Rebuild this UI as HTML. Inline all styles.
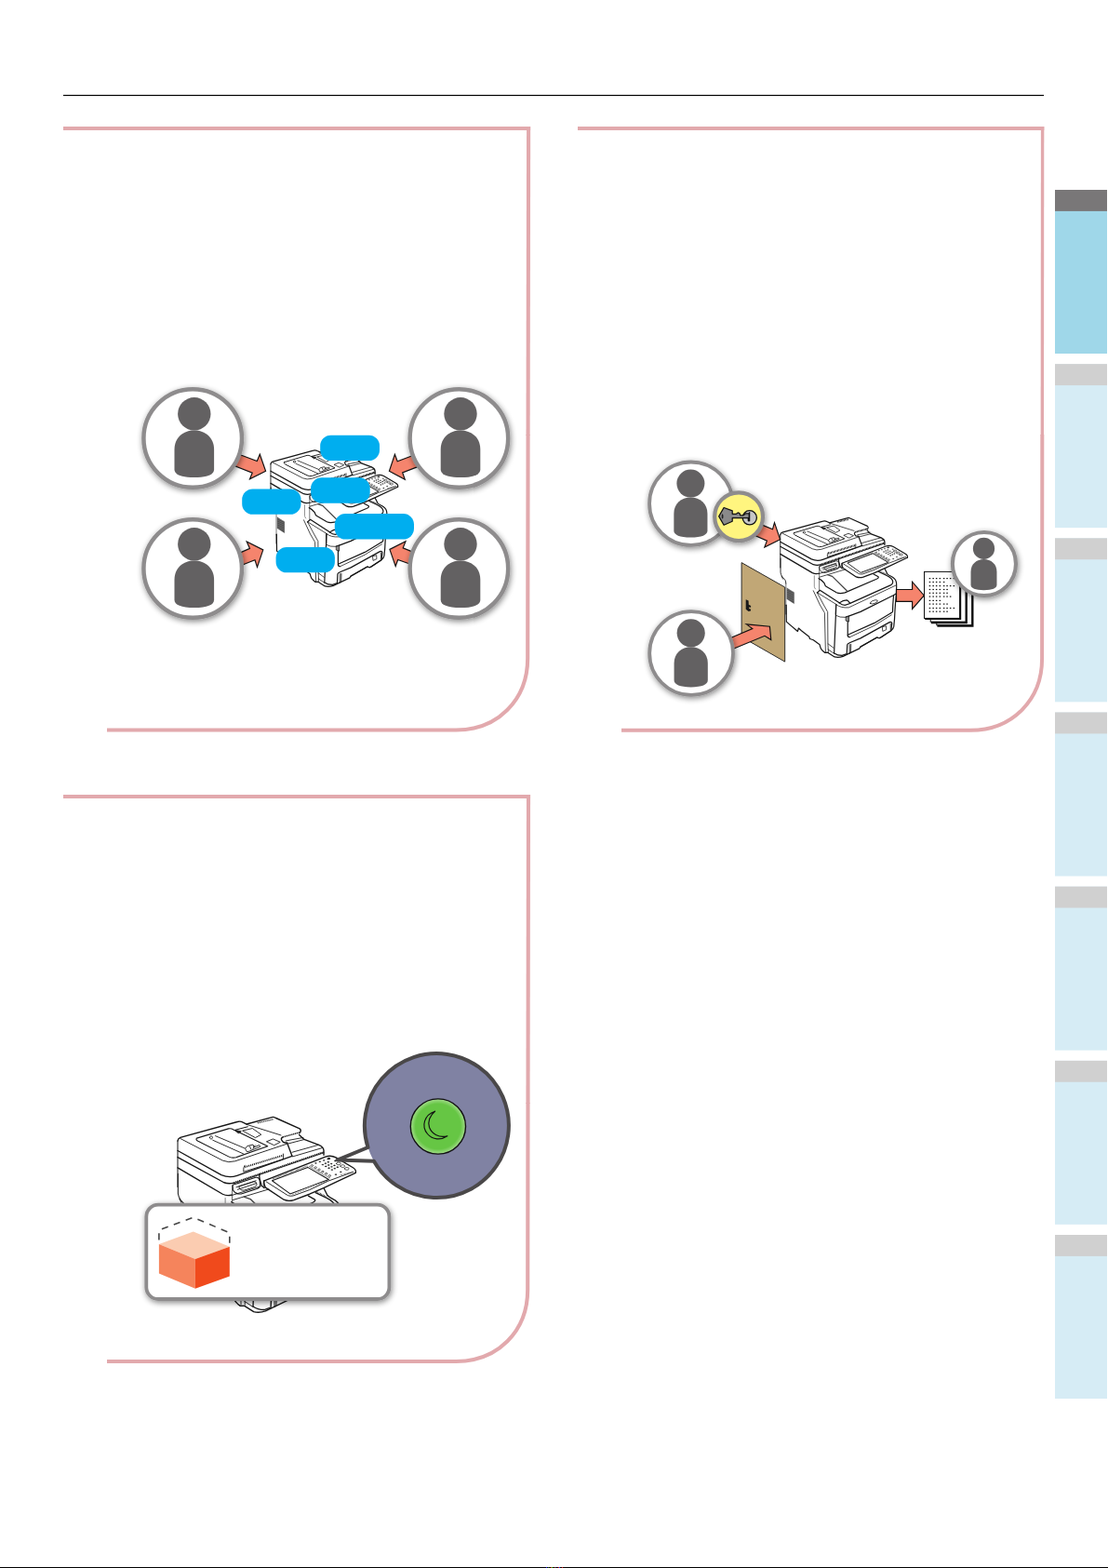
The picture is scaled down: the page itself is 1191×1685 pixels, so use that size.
<!DOCTYPE html>
<html lang="en"><head><meta charset="utf-8"><title>Page</title>
<style>
html,body{margin:0;padding:0;background:#fff;}
body{width:1191px;height:1685px;overflow:hidden;font-family:"Liberation Sans",sans-serif;}
svg{display:block;position:absolute;left:0;top:0;}
</style></head><body>
<svg width="1191" height="1685" viewBox="0 0 1191 1685">
<defs>
<filter id="sh" x="-30%" y="-30%" width="160%" height="160%">
<feGaussianBlur in="SourceAlpha" stdDeviation="3.3"/>
<feOffset dx="1.4" dy="1.6" result="b"/>
<feComponentTransfer><feFuncA type="linear" slope="0.47"/></feComponentTransfer>
<feMerge><feMergeNode/><feMergeNode in="SourceGraphic"/></feMerge>
</filter>
<radialGradient id="gg" cx="50%" cy="50%" r="50%">
<stop offset="0" stop-color="#66c644"/><stop offset="0.82" stop-color="#66c644"/><stop offset="1" stop-color="#a5dd8d"/>
</radialGradient>
</defs>
<rect x="68" y="101.9" width="1054" height="1.2" fill="#000"/>
<path d="M68,138 L570.15,138" fill="none" stroke="#e2a9ad" stroke-width="4"/><path d="M568.1,136 L567.58,468" fill="none" stroke="#e2a9ad" stroke-width="4.1"/><path d="M567.58,467 L567.2,707.5 C567.2,752.16 534.86,784.5 490.20000000000005,784.5 L115,784.5" fill="none" stroke="#e2a9ad" stroke-width="4.1"/>
<path d="M621,138 L1122.30,138" fill="none" stroke="#e2a9ad" stroke-width="4"/><path d="M1120.6,136 L1120.31,468" fill="none" stroke="#e2a9ad" stroke-width="3.4"/><path d="M1120.31,467 L1120.1,707.8 C1120.1,752.4599999999999 1087.76,784.8 1043.1,784.8 L668,784.8" fill="none" stroke="#e2a9ad" stroke-width="4.0"/>
<path d="M68,855.9 L570.05,855.9" fill="none" stroke="#e2a9ad" stroke-width="4"/><path d="M568.0,853.9 L567.50,1185.9" fill="none" stroke="#e2a9ad" stroke-width="4.1"/><path d="M567.50,1184.9 L567.2,1386 C567.2,1430.66 534.86,1463 490.20000000000005,1463 L115,1463" fill="none" stroke="#e2a9ad" stroke-width="4.1"/>
<rect x="1134" y="204.00" width="56" height="176" fill="#9fd7e9"/>
<rect x="1134" y="204.00" width="56" height="22.9" fill="#797778"/>
<rect x="1134" y="391.17" width="56" height="176" fill="#d6ecf5"/>
<rect x="1134" y="391.17" width="56" height="22.9" fill="#d0d0d0"/>
<rect x="1134" y="578.34" width="56" height="176" fill="#d6ecf5"/>
<rect x="1134" y="578.34" width="56" height="22.9" fill="#d0d0d0"/>
<rect x="1134" y="765.51" width="56" height="176" fill="#d6ecf5"/>
<rect x="1134" y="765.51" width="56" height="22.9" fill="#d0d0d0"/>
<rect x="1134" y="952.68" width="56" height="176" fill="#d6ecf5"/>
<rect x="1134" y="952.68" width="56" height="22.9" fill="#d0d0d0"/>
<rect x="1134" y="1139.85" width="56" height="176" fill="#d6ecf5"/>
<rect x="1134" y="1139.85" width="56" height="22.9" fill="#d0d0d0"/>
<rect x="1134" y="1327.02" width="56" height="176" fill="#d6ecf5"/>
<rect x="1134" y="1327.02" width="56" height="22.9" fill="#d0d0d0"/>
<g transform="translate(-547.80,-76.00) scale(1.0)" stroke-linejoin="round" stroke-linecap="round"><path d="M 838.78 610.00 L 838.78 574.69" fill="none" stroke="#161616" stroke-width="0.90"/><path d="M 838.78 574.69 Q 838.93 572.92 840.79 572.17 L 884.62 560.08 Q 886.89 559.32 888.90 560.58 L 891.68 561.89" fill="none" stroke="#161616" stroke-width="1.20"/><path d="M 839.03 600.00 L 839.03 615.11 Q 839.28 617.63 841.05 620.15 L 843.82 623.17 Q 844.82 624.43 844.82 627.20" fill="none" stroke="#161616" stroke-width="0.90"/><path d="M 844.82 627.20 L 844.82 650.38" fill="none" stroke="#555" stroke-width="0.78"/><path d="M 844.97 650.38 L 844.97 660.00" fill="none" stroke="#161616" stroke-width="0.90"/><path d="M 840.04 619.14 L 841.55 622.17" fill="none" stroke="#161616" stroke-width="0.78"/><path d="M 840.79 572.92 L 873.29 589.80 Q 877.82 591.81 882.86 590.30 L 922.56 577.05" fill="none" stroke="#161616" stroke-width="0.78"/><path d="M 838.78 582.24 L 872.28 600.88 Q 878.32 603.40 884.37 601.39 L 926.59 586.37" fill="none" stroke="#161616" stroke-width="1.20"/><path d="M 838.78 587.28 L 874.29 606.68 Q 877.82 607.93 881.85 606.93" fill="none" stroke="#161616" stroke-width="1.20"/><path d="M 881.85 606.83 L 950.92 583.30" fill="none" stroke="#1a1a1a" stroke-width="1.90" stroke-dasharray="1.0 0.45" stroke-linecap="butt"/><path d="M 881.85 607.43 L 950.92 583.90" fill="none" stroke="#161616" stroke-width="0.78"/><path d="M 838.78 595.37 L 873.29 615.62 Q 876.81 617.38 880.59 616.02" fill="none" stroke="#161616" stroke-width="1.20"/><path d="M 875.30 618.64 L 875.30 630.23 Q 875.55 632.24 876.56 633.00" fill="none" stroke="#777" stroke-width="0.78"/><path d="M 880.59 609.07 L 880.59 634.26" fill="none" stroke="#555" stroke-width="0.78"/><path d="M 853.39 572.67 L 877.82 565.37 Q 879.84 565.01 881.60 566.12 L 907.85 578.87 L 883.61 587.38 Q 880.34 588.19 877.82 586.78 L 854.40 574.94 Q 852.38 573.78 853.39 572.67 Z" fill="none" stroke="#161616" stroke-width="0.95"/><path d="M 867.75 570.91 L 890.42 580.48 M 865.73 574.18 L 889.41 584.76" fill="none" stroke="#161616" stroke-width="0.78"/><path d="M 863.36 572.17 C 863.36 571.55 863.86 571.06 864.47 571.06 C 865.08 571.06 865.58 571.55 865.58 572.17 C 865.58 572.78 865.08 573.27 864.47 573.27 C 863.86 573.27 863.36 572.78 863.36 572.17 Z" fill="none" stroke="#161616" stroke-width="0.78"/><path d="M 890.83 580.48 L 892.09 578.72 L 896.62 577.61 L 897.38 579.72 L 901.41 577.96 L 902.17 579.22 L 893.60 582.75 L 892.09 583.00 Z" fill="none" stroke="#161616" stroke-width="0.78"/><path d="M 894.11 578.97 L 895.11 581.23 M 898.14 578.21 L 896.62 580.73" fill="none" stroke="#161616" stroke-width="0.78"/><path d="M 891.69 561.89 L 911.23 556.55 Q 912.49 556.25 913.85 557.05 L 932.39 565.37 Q 933.80 566.37 932.90 568.04 L 932.14 568.89" fill="none" stroke="#161616" stroke-width="1.20"/><path d="M 919.55 571.76 L 932.39 568.24" fill="none" stroke="#222" stroke-width="1.70" stroke-dasharray="1.0 0.35" stroke-linecap="butt"/><path d="M 919.55 571.76 Q 917.88 572.57 918.54 574.08 L 919.90 575.79 L 922.82 576.30" fill="none" stroke="#161616" stroke-width="1.20"/><path d="M 922.82 576.30 L 926.60 586.37" fill="none" stroke="#161616" stroke-width="1.20"/><path d="M 932.04 570.05 L 935.82 573.58 L 947.15 577.86 Q 950.68 579.37 950.93 582.14 L 950.93 585.67" fill="none" stroke="#161616" stroke-width="1.20"/><path d="M 921.81 574.69 L 935.16 572.17 M 923.32 576.95 L 935.92 573.68" fill="none" stroke="#161616" stroke-width="0.78"/><path d="M 892.09 562.24 L 918.04 570.40" fill="none" stroke="#161616" stroke-width="0.78"/><path d="M 900.15 560.98 L 912.49 558.06" fill="none" stroke="#333" stroke-width="1.60" stroke-dasharray="0.9 0.5" stroke-linecap="butt"/><path d="M 888.82 566.88 L 896.12 565.11 L 902.92 569.90 L 898.64 572.17 Z" fill="none" stroke="#161616" stroke-width="0.78"/><path d="M 907.20 575.19 L 911.99 573.27 L 917.53 575.69 L 913.00 577.96 Z" fill="none" stroke="#161616" stroke-width="0.78"/><path d="M 883.02 566.37 L 892.59 563.85" fill="none" stroke="#161616" stroke-width="0.90"/><path d="M 883.02 566.62 L 887.56 567.38 L 885.54 568.74 Z" fill="#222" stroke="#161616" stroke-width="0.78"/><path d="M 926.60 583.50 L 946.75 577.86 M 927.10 586.78 L 949.77 580.13" fill="none" stroke="#161616" stroke-width="0.78"/><path d="M 890.33 594.84 L 919.55 585.87" fill="none" stroke="#222" stroke-width="2.20" stroke-dasharray="0.85 0.6" stroke-linecap="butt"/><path d="M 890.33 593.43 Q 888.97 594.84 889.32 598.46 L 919.80 588.89 L 919.80 584.76" fill="none" stroke="#161616" stroke-width="0.78"/><path d="M 905.20 605.29 L 952.20 586.95 Q 956.23 585.44 960.26 587.46 L 973.36 595.26 Q 976.13 597.03 975.38 599.29" fill="none" stroke="#161616" stroke-width="1.20"/><path d="M 975.38 599.29 L 951.20 610.63 L 940.01 615.62 L 927.87 620.15 Q 923.84 621.41 920.31 619.90 L 906.21 610.58 Q 904.70 607.56 905.20 605.29" fill="none" stroke="#161616" stroke-width="1.20"/><path d="M 906.71 606.05 L 923.34 616.62 Q 925.35 617.38 927.37 616.88 L 940.01 612.34 L 954.22 605.59 L 973.61 598.54" fill="none" stroke="#161616" stroke-width="0.78"/><path d="M 938.60 595.01 L 954.72 604.33 L 940.01 609.82 L 925.10 615.37 L 911.25 605.29 Z" fill="none" stroke="#161616" stroke-width="0.90"/><path d="M 926.51 616.02 L 954.47 605.34" fill="none" stroke="#333" stroke-width="1.00" stroke-dasharray="0.5 0.7" stroke-linecap="butt"/><path d="M 941.12 593.45 L 942.13 592.95 L 942.93 593.70 L 941.93 594.26 Z" fill="none" stroke="#161616" stroke-width="0.60"/><path d="M 943.84 595.01 L 944.85 594.51 L 945.65 595.26 L 944.65 595.82 Z" fill="none" stroke="#161616" stroke-width="0.60"/><path d="M 946.56 596.57 L 947.57 596.07 L 948.38 596.83 L 947.37 597.38 Z" fill="none" stroke="#161616" stroke-width="0.60"/><path d="M 949.28 598.14 L 950.29 597.63 L 951.10 598.39 L 950.09 598.94 Z" fill="none" stroke="#161616" stroke-width="0.60"/><path d="M 952.00 599.70 L 953.01 599.19 L 953.82 599.95 L 952.81 600.50 Z" fill="none" stroke="#161616" stroke-width="0.60"/><path d="M 954.72 601.26 L 955.73 600.76 L 956.54 601.51 L 955.53 602.07 Z" fill="none" stroke="#161616" stroke-width="0.60"/><path d="M 944.19 591.79 C 944.19 591.54 944.49 591.33 944.85 591.33 C 945.21 591.33 945.50 591.54 945.50 591.79 C 945.50 592.04 945.21 592.25 944.85 592.25 C 944.49 592.25 944.19 592.04 944.19 591.79 Z" fill="#222" stroke="#161616" stroke-width="0.20"/><path d="M 947.32 590.73 C 947.32 590.48 947.61 590.27 947.97 590.27 C 948.33 590.27 948.63 590.48 948.63 590.73 C 948.63 590.98 948.33 591.19 947.97 591.19 C 947.61 591.19 947.32 590.98 947.32 590.73 Z" fill="#222" stroke="#161616" stroke-width="0.20"/><path d="M 950.44 589.67 C 950.44 589.42 950.73 589.21 951.10 589.21 C 951.46 589.21 951.75 589.42 951.75 589.67 C 951.75 589.93 951.46 590.13 951.10 590.13 C 950.73 590.13 950.44 589.93 950.44 589.67 Z" fill="#222" stroke="#161616" stroke-width="0.20"/><path d="M 953.56 588.61 C 953.56 588.36 953.86 588.16 954.22 588.16 C 954.58 588.16 954.87 588.36 954.87 588.61 C 954.87 588.87 954.58 589.07 954.22 589.07 C 953.86 589.07 953.56 588.87 953.56 588.61 Z" fill="#222" stroke="#161616" stroke-width="0.20"/><path d="M 949.48 593.00 C 949.48 592.72 949.80 592.50 950.19 592.50 C 950.58 592.50 950.89 592.72 950.89 593.00 C 950.89 593.27 950.58 593.49 950.19 593.49 C 949.80 593.49 949.48 593.27 949.48 593.00 Z" fill="#222" stroke="#161616" stroke-width="0.20"/><path d="M 951.85 594.31 C 951.85 594.03 952.17 593.81 952.56 593.81 C 952.95 593.81 953.26 594.03 953.26 594.31 C 953.26 594.58 952.95 594.80 952.56 594.80 C 952.17 594.80 951.85 594.58 951.85 594.31 Z" fill="#222" stroke="#161616" stroke-width="0.20"/><path d="M 954.22 595.62 C 954.22 595.34 954.53 595.12 954.92 595.12 C 955.31 595.12 955.63 595.34 955.63 595.62 C 955.63 595.89 955.31 596.11 954.92 596.11 C 954.53 596.11 954.22 595.89 954.22 595.62 Z" fill="#222" stroke="#161616" stroke-width="0.20"/><path d="M 956.59 596.93 C 956.59 596.65 956.90 596.43 957.29 596.43 C 957.68 596.43 958.00 596.65 958.00 596.93 C 958.00 597.20 957.68 597.42 957.29 597.42 C 956.90 597.42 956.59 597.20 956.59 596.93 Z" fill="#222" stroke="#161616" stroke-width="0.20"/><path d="M 951.60 591.99 C 951.60 591.72 951.92 591.50 952.30 591.50 C 952.69 591.50 953.01 591.72 953.01 591.99 C 953.01 592.26 952.69 592.48 952.30 592.48 C 951.92 592.48 951.60 592.26 951.60 591.99 Z" fill="#222" stroke="#161616" stroke-width="0.20"/><path d="M 953.97 593.30 C 953.97 593.03 954.28 592.81 954.67 592.81 C 955.06 592.81 955.38 593.03 955.38 593.30 C 955.38 593.57 955.06 593.79 954.67 593.79 C 954.28 593.79 953.97 593.57 953.97 593.30 Z" fill="#222" stroke="#161616" stroke-width="0.20"/><path d="M 956.34 594.61 C 956.34 594.34 956.65 594.12 957.04 594.12 C 957.43 594.12 957.75 594.34 957.75 594.61 C 957.75 594.88 957.43 595.10 957.04 595.10 C 956.65 595.10 956.34 594.88 956.34 594.61 Z" fill="#222" stroke="#161616" stroke-width="0.20"/><path d="M 958.70 595.92 C 958.70 595.65 959.02 595.43 959.41 595.43 C 959.80 595.43 960.11 595.65 960.11 595.92 C 960.11 596.19 959.80 596.41 959.41 596.41 C 959.02 596.41 958.70 596.19 958.70 595.92 Z" fill="#222" stroke="#161616" stroke-width="0.20"/><path d="M 953.72 590.98 C 953.72 590.71 954.03 590.49 954.42 590.49 C 954.81 590.49 955.13 590.71 955.13 590.98 C 955.13 591.26 954.81 591.48 954.42 591.48 C 954.03 591.48 953.72 591.26 953.72 590.98 Z" fill="#222" stroke="#161616" stroke-width="0.20"/><path d="M 956.08 592.29 C 956.08 592.02 956.40 591.80 956.79 591.80 C 957.18 591.80 957.49 592.02 957.49 592.29 C 957.49 592.56 957.18 592.79 956.79 592.79 C 956.40 592.79 956.08 592.56 956.08 592.29 Z" fill="#222" stroke="#161616" stroke-width="0.20"/><path d="M 958.45 593.60 C 958.45 593.33 958.77 593.11 959.16 593.11 C 959.55 593.11 959.86 593.33 959.86 593.60 C 959.86 593.87 959.55 594.10 959.16 594.10 C 958.77 594.10 958.45 593.87 958.45 593.60 Z" fill="#222" stroke="#161616" stroke-width="0.20"/><path d="M 960.82 594.91 C 960.82 594.64 961.13 594.42 961.52 594.42 C 961.91 594.42 962.23 594.64 962.23 594.91 C 962.23 595.18 961.91 595.41 961.52 595.41 C 961.13 595.41 960.82 595.18 960.82 594.91 Z" fill="#222" stroke="#161616" stroke-width="0.20"/><path d="M 959.06 590.13 C 959.06 589.85 959.37 589.63 959.76 589.63 C 960.15 589.63 960.47 589.85 960.47 590.13 C 960.47 590.40 960.15 590.62 959.76 590.62 C 959.37 590.62 959.06 590.40 959.06 590.13 Z" fill="#222" stroke="#161616" stroke-width="0.20"/><path d="M 963.34 598.54 C 963.34 598.27 963.65 598.05 964.04 598.05 C 964.43 598.05 964.75 598.27 964.75 598.54 C 964.75 598.81 964.43 599.03 964.04 599.03 C 963.65 599.03 963.34 598.81 963.34 598.54 Z" fill="#222" stroke="#161616" stroke-width="0.20"/><path d="M 959.56 600.55 C 959.56 600.28 959.87 600.06 960.26 600.06 C 960.65 600.06 960.97 600.28 960.97 600.55 C 960.97 600.83 960.65 601.05 960.26 601.05 C 959.87 601.05 959.56 600.83 959.56 600.55 Z" fill="#222" stroke="#161616" stroke-width="0.20"/><path d="M 954.07 588.31 C 954.07 587.92 954.50 587.61 955.03 587.61 C 955.55 587.61 955.98 587.92 955.98 588.31 C 955.98 588.70 955.55 589.02 955.03 589.02 C 954.50 589.02 954.07 588.70 954.07 588.31 Z" fill="#222" stroke="#161616" stroke-width="0.20"/><path d="M 960.57 592.14 C 960.57 591.61 961.33 591.18 962.28 591.18 C 963.23 591.18 963.99 591.61 963.99 592.14 C 963.99 592.67 963.23 593.10 962.28 593.10 C 961.33 593.10 960.57 592.67 960.57 592.14 Z" fill="none" stroke="#161616" stroke-width="0.65"/><path d="M 963.74 594.11 C 963.74 593.58 964.51 593.15 965.45 593.15 C 966.40 593.15 967.17 593.58 967.17 594.11 C 967.17 594.63 966.40 595.06 965.45 595.06 C 964.51 595.06 963.74 594.63 963.74 594.11 Z" fill="none" stroke="#161616" stroke-width="0.65"/><path d="M 966.91 596.07 C 966.91 595.54 967.68 595.11 968.63 595.11 C 969.57 595.11 970.34 595.54 970.34 596.07 C 970.34 596.60 969.57 597.03 968.63 597.03 C 967.68 597.03 966.91 596.60 966.91 596.07 Z" fill="none" stroke="#161616" stroke-width="0.65"/><path d="M 963.79 600.91 L 972.61 598.39" fill="none" stroke="#333" stroke-width="1.00" stroke-dasharray="0.5 0.5" stroke-linecap="butt"/><path d="M 911.80 603.93 L 938.50 593.90" fill="none" stroke="#333" stroke-width="1.50" stroke-dasharray="0.4 0.5" stroke-linecap="butt"/><path d="M 939.71 594.16 L 955.83 603.43" fill="none" stroke="#333" stroke-width="1.50" stroke-dasharray="0.4 0.5" stroke-linecap="butt"/><path d="M 881.01 608.56 L 898.64 602.77 Q 901.16 602.27 901.76 605.04 L 901.91 609.07 Q 901.66 610.83 899.65 611.59 L 887.56 615.37 Q 883.02 615.87 881.26 612.59 Z" fill="none" stroke="#161616" stroke-width="0.90"/><path d="M 886.05 609.57 L 897.13 606.05 Q 899.14 605.64 899.40 607.56 L 899.40 608.56 Q 899.14 609.67 897.63 610.18 L 889.57 612.70 Q 887.05 613.00 886.30 611.34 Z" fill="none" stroke="#161616" stroke-width="0.78"/><path d="M 883.78 610.33 L 898.89 605.29 M 884.79 612.09 L 899.14 607.30" fill="none" stroke="#161616" stroke-width="0.78"/><path d="M 901.66 600.00 Q 901.16 603.02 902.17 605.54 L 903.17 609.07 L 905.19 610.83" fill="none" stroke="#161616" stroke-width="1.20"/><path d="M 904.69 605.54 Q 904.08 608.06 905.44 610.33" fill="none" stroke="#161616" stroke-width="0.78"/><path d="M 881.01 620.15 L 908.72 611.84 M 880.00 616.62 L 902.67 609.57" fill="none" stroke="#161616" stroke-width="0.78"/><path d="M 880.00 621.66 Q 884.03 623.68 886.05 626.70 Q 887.05 629.72 888.06 630.23 L 899.14 636.78 Q 902.67 638.39 908.21 636.88 L 941.61 622.57 Q 944.99 620.91 944.13 619.85 L 939.09 617.03" fill="none" stroke="#161616" stroke-width="1.20"/><path d="M 889.57 617.63 L 894.61 619.40 L 910.23 634.76" fill="none" stroke="#444" stroke-width="1.20"/><path d="M 878.34 637.03 L 881.36 634.26 L 902.17 647.86" fill="none" stroke="#161616" stroke-width="1.20"/><path d="M 879.35 637.38 L 899.14 649.62" fill="none" stroke="#161616" stroke-width="0.78"/><path d="M 902.17 647.86 Q 906.20 644.84 910.23 644.84 Q 911.74 645.34 913.75 648.36 L 957.73 628.61 Q 960.10 627.20 959.75 625.09 Q 959.24 621.56 953.20 618.54 L 944.63 614.51" fill="none" stroke="#161616" stroke-width="1.20"/><path d="M 902.17 647.86 Q 905.19 650.38 908.21 650.38 L 913.75 648.46" fill="none" stroke="#161616" stroke-width="1.20"/><path d="M 899.14 649.87 Q 903.68 653.50 912.24 652.90 L 962.77 629.12" fill="none" stroke="#161616" stroke-width="0.78"/><path d="M 898.64 649.62 L 898.39 660.00" fill="none" stroke="#161616" stroke-width="1.20"/><path d="M 935.48 648.54 Q 934.82 647.03 937.85 645.67 Q 941.62 644.01 943.24 645.16 Q 943.89 646.68 941.02 648.04 Q 937.24 649.80 935.48 648.54 Z" fill="none" stroke="#161616" stroke-width="0.78"/><path d="M 951.20 611.51 L 953.72 616.55 Q 955.23 618.06 957.75 619.32 Q 962.28 621.59 963.29 625.11 Q 963.89 627.13 963.69 630.15 L 963.39 638.21 L 962.53 648.29 L 962.03 655.34 L 961.52 665.11 L 960.77 673.17 Q 960.26 676.20 957.75 677.71 L 947.17 684.76 L 945.15 685.77 L 942.63 685.01 L 925.00 695.34" fill="none" stroke="#161616" stroke-width="1.20"/><path d="M 945.15 613.53 L 953.21 617.56" fill="none" stroke="#161616" stroke-width="1.40" stroke-dasharray="0.5 0.6" stroke-linecap="butt"/><path d="M 960.52 639.72 L 959.76 650.00 L 959.51 657.05 Q 959.26 658.11 957.75 658.82" fill="none" stroke="#161616" stroke-width="1.20"/><path d="M 912.24 662.09 L 924.99 657.36 L 960.25 639.72 L 962.77 638.21" fill="none" stroke="#161616" stroke-width="1.20"/><path d="M 911.23 662.59 L 911.23 682.24 Q 910.98 684.51 913.25 684.76" fill="none" stroke="#161616" stroke-width="1.20"/><path d="M 911.23 682.24 L 940.00 669.40 L 957.73 658.82" fill="none" stroke="#161616" stroke-width="1.20"/><path d="M 913.25 684.76 L 940.00 672.17 L 958.24 660.83" fill="none" stroke="#161616" stroke-width="0.78"/><path d="M 909.47 662.59 L 912.49 662.09 L 912.49 668.14 L 909.47 667.13 Z" fill="#888" stroke="#161616" stroke-width="0.78"/><path d="M 898.64 649.65 L 898.39 661.08 L 896.62 701.89" fill="none" stroke="#161616" stroke-width="1.20"/><path d="M 898.39 661.34 Q 902.67 663.85 909.22 663.35 L 912.24 662.09" fill="none" stroke="#161616" stroke-width="0.78"/><path d="M 910.23 702.90 L 910.73 692.82 Q 911.23 691.31 913.25 690.81 L 924.99 685.87 L 956.22 668.64 Q 958.24 667.88 958.74 669.65 L 957.98 676.70" fill="none" stroke="#161616" stroke-width="1.20"/><path d="M 957.23 669.90 L 957.23 676.70" fill="none" stroke="#161616" stroke-width="0.78"/><path d="M 913.50 692.82 L 913.25 701.89" fill="none" stroke="#777" stroke-width="1.80"/><path d="M 914.76 692.32 L 914.51 700.88" fill="none" stroke="#161616" stroke-width="0.78"/><path d="M 948.68 673.68 L 952.46 672.67 L 952.71 676.70 L 949.18 678.21 Z" fill="none" stroke="#161616" stroke-width="0.78"/><path d="M 845.08 650.00 L 845.33 668.14 L 857.42 678.46 L 858.43 675.04 L 861.45 677.71 L 869.76 684.26 L 870.52 686.52 L 874.29 687.78 L 881.10 692.82 Q 881.60 695.34 882.61 697.36 Q 884.12 699.62 886.89 701.39 L 890.42 701.39" fill="none" stroke="#161616" stroke-width="1.20"/><path d="M 886.90 701.39 L 890.08 701.39 L 897.13 705.92 Q 901.16 707.03 906.20 705.42 L 910.23 703.40 L 923.83 696.85 L 924.84 694.94 L 942.62 685.01 L 945.14 685.77 L 947.15 684.76 L 957.73 677.71" fill="none" stroke="#161616" stroke-width="1.20"/><path d="M 896.62 701.89 Q 900.15 704.41 905.19 704.41 L 909.47 702.90" fill="none" stroke="#161616" stroke-width="1.20"/><path d="M 874.29 634.79 L 881.35 650.00 L 886.39 658.56 L 887.39 700.38" fill="none" stroke="#161616" stroke-width="0.78"/><path d="M 878.32 636.80 L 885.38 650.00 L 889.66 657.56 L 889.91 691.81 L 890.42 700.38" fill="none" stroke="#161616" stroke-width="0.78"/><path d="M 890.06 691.81 L 896.11 696.35 M 890.06 697.86 L 896.11 701.89" fill="none" stroke="#161616" stroke-width="0.78"/><path d="M 845.83 631.74 L 853.64 636.78 L 853.64 648.87 L 845.83 643.83 Z" fill="#4c4c4c" stroke="#4c4c4c" stroke-width="0.20"/><path d="M 845.98 633.25 L 853.54 636.37" fill="none" stroke="#8a8a8a" stroke-width="0.45"/><path d="M 845.98 635.16 L 853.54 638.29" fill="none" stroke="#8a8a8a" stroke-width="0.45"/><path d="M 845.98 637.08 L 853.54 640.20" fill="none" stroke="#8a8a8a" stroke-width="0.45"/><path d="M 845.98 638.99 L 853.54 642.12" fill="none" stroke="#8a8a8a" stroke-width="0.45"/><path d="M 845.98 640.91 L 853.54 644.03" fill="none" stroke="#8a8a8a" stroke-width="0.45"/><path d="M 845.98 642.82 L 853.54 645.94" fill="none" stroke="#8a8a8a" stroke-width="0.45"/></g>
<path d="M259.6,489.2 L276.3,495.5 L279.3,488.2 L285.6,506.3 L268.5,514.7 L271.2,508.1 L253.6,501.1 L245.0,497.0 L251.0,485.6Z" fill="#f5846d" stroke="#111" stroke-width="1.15" stroke-linejoin="miter" stroke-miterlimit="8"/>
<path d="M441.8,490.2 L427.2,495.8 L424.4,488.2 L418.4,506.3 L435.3,515.2 L432.7,507.9 L447.6,502.1 L456.0,498.0 L450.0,487.0Z" fill="#f5846d" stroke="#111" stroke-width="1.15" stroke-linejoin="miter" stroke-miterlimit="8"/>
<path d="M259.4,593.4 L268.5,589.4 L265.2,582.1 L282.8,590.9 L276.5,609.5 L274.0,601.7 L261.9,606.5 L252.0,610.0 L250.0,597.5Z" fill="#f5846d" stroke="#111" stroke-width="1.15" stroke-linejoin="miter" stroke-miterlimit="8"/>
<path d="M441.8,592.4 L433.2,588.9 L436.0,581.8 L418.9,590.4 L425.2,608.5 L427.7,601.5 L439.0,605.5 L449.0,609.5 L451.0,596.5Z" fill="#f5846d" stroke="#111" stroke-width="1.15" stroke-linejoin="miter" stroke-miterlimit="8"/>
<circle cx="207.2" cy="471.0" r="52.77" fill="#fff" stroke="#8e8c8d" stroke-width="4.45" filter="url(#sh)"/>
<circle cx="208.80" cy="444.80" r="17.70" fill="#636162"/><path d="M187.50,482.90 C187.50,470.50 196.80,462.50 208.80,462.50 C220.80,462.50 230.10,470.50 230.10,482.90 L230.10,504.50 C230.10,510.00 222.80,513.10 208.80,513.10 C194.80,513.10 187.50,510.00 187.50,504.50 Z" fill="#636162"/>
<circle cx="493.4" cy="471.0" r="52.77" fill="#fff" stroke="#8e8c8d" stroke-width="4.45" filter="url(#sh)"/>
<circle cx="495.00" cy="444.80" r="17.70" fill="#636162"/><path d="M473.70,482.90 C473.70,470.50 483.00,462.50 495.00,462.50 C507.00,462.50 516.30,470.50 516.30,482.90 L516.30,504.50 C516.30,510.00 509.00,513.10 495.00,513.10 C481.00,513.10 473.70,510.00 473.70,504.50 Z" fill="#636162"/>
<circle cx="207.2" cy="611.0" r="52.77" fill="#fff" stroke="#8e8c8d" stroke-width="4.45" filter="url(#sh)"/>
<circle cx="208.80" cy="584.80" r="17.70" fill="#636162"/><path d="M187.50,622.90 C187.50,610.50 196.80,602.50 208.80,602.50 C220.80,602.50 230.10,610.50 230.10,622.90 L230.10,644.50 C230.10,650.00 222.80,653.10 208.80,653.10 C194.80,653.10 187.50,650.00 187.50,644.50 Z" fill="#636162"/>
<circle cx="493.4" cy="611.0" r="52.77" fill="#fff" stroke="#8e8c8d" stroke-width="4.45" filter="url(#sh)"/>
<circle cx="495.00" cy="584.80" r="17.70" fill="#636162"/><path d="M473.70,622.90 C473.70,610.50 483.00,602.50 495.00,602.50 C507.00,602.50 516.30,610.50 516.30,622.90 L516.30,644.50 C516.30,650.00 509.00,653.10 495.00,653.10 C481.00,653.10 473.70,650.00 473.70,644.50 Z" fill="#636162"/>
<rect x="344.2" y="467.7" width="63.8" height="27.4" rx="11.4" ry="11.4" fill="#00aeef"/>
<rect x="334.1" y="513.3" width="63.6" height="27.4" rx="11.4" ry="11.4" fill="#00aeef"/>
<rect x="260.2" y="525.4" width="63.3" height="27.4" rx="11.4" ry="11.4" fill="#00aeef"/>
<rect x="359.8" y="552.1" width="85.2" height="27.4" rx="11.4" ry="11.4" fill="#00aeef"/>
<rect x="296.6" y="587.9" width="63.3" height="27.4" rx="11.4" ry="11.4" fill="#00aeef"/>
<g transform="translate(0.00,0.00) scale(1.0)" stroke-linejoin="round" stroke-linecap="round"><path d="M 838.78 610.00 L 838.78 574.69" fill="none" stroke="#161616" stroke-width="0.90"/><path d="M 838.78 574.69 Q 838.93 572.92 840.79 572.17 L 884.62 560.08 Q 886.89 559.32 888.90 560.58 L 891.68 561.89" fill="none" stroke="#161616" stroke-width="1.20"/><path d="M 839.03 600.00 L 839.03 615.11 Q 839.28 617.63 841.05 620.15 L 843.82 623.17 Q 844.82 624.43 844.82 627.20" fill="none" stroke="#161616" stroke-width="0.90"/><path d="M 844.82 627.20 L 844.82 650.38" fill="none" stroke="#555" stroke-width="0.78"/><path d="M 844.97 650.38 L 844.97 660.00" fill="none" stroke="#161616" stroke-width="0.90"/><path d="M 840.04 619.14 L 841.55 622.17" fill="none" stroke="#161616" stroke-width="0.78"/><path d="M 840.79 572.92 L 873.29 589.80 Q 877.82 591.81 882.86 590.30 L 922.56 577.05" fill="none" stroke="#161616" stroke-width="0.78"/><path d="M 838.78 582.24 L 872.28 600.88 Q 878.32 603.40 884.37 601.39 L 926.59 586.37" fill="none" stroke="#161616" stroke-width="1.20"/><path d="M 838.78 587.28 L 874.29 606.68 Q 877.82 607.93 881.85 606.93" fill="none" stroke="#161616" stroke-width="1.20"/><path d="M 881.85 606.83 L 950.92 583.30" fill="none" stroke="#1a1a1a" stroke-width="1.90" stroke-dasharray="1.0 0.45" stroke-linecap="butt"/><path d="M 881.85 607.43 L 950.92 583.90" fill="none" stroke="#161616" stroke-width="0.78"/><path d="M 838.78 595.37 L 873.29 615.62 Q 876.81 617.38 880.59 616.02" fill="none" stroke="#161616" stroke-width="1.20"/><path d="M 875.30 618.64 L 875.30 630.23 Q 875.55 632.24 876.56 633.00" fill="none" stroke="#777" stroke-width="0.78"/><path d="M 880.59 609.07 L 880.59 634.26" fill="none" stroke="#555" stroke-width="0.78"/><path d="M 853.39 572.67 L 877.82 565.37 Q 879.84 565.01 881.60 566.12 L 907.85 578.87 L 883.61 587.38 Q 880.34 588.19 877.82 586.78 L 854.40 574.94 Q 852.38 573.78 853.39 572.67 Z" fill="none" stroke="#161616" stroke-width="0.95"/><path d="M 867.75 570.91 L 890.42 580.48 M 865.73 574.18 L 889.41 584.76" fill="none" stroke="#161616" stroke-width="0.78"/><path d="M 863.36 572.17 C 863.36 571.55 863.86 571.06 864.47 571.06 C 865.08 571.06 865.58 571.55 865.58 572.17 C 865.58 572.78 865.08 573.27 864.47 573.27 C 863.86 573.27 863.36 572.78 863.36 572.17 Z" fill="none" stroke="#161616" stroke-width="0.78"/><path d="M 890.83 580.48 L 892.09 578.72 L 896.62 577.61 L 897.38 579.72 L 901.41 577.96 L 902.17 579.22 L 893.60 582.75 L 892.09 583.00 Z" fill="none" stroke="#161616" stroke-width="0.78"/><path d="M 894.11 578.97 L 895.11 581.23 M 898.14 578.21 L 896.62 580.73" fill="none" stroke="#161616" stroke-width="0.78"/><path d="M 891.69 561.89 L 911.23 556.55 Q 912.49 556.25 913.85 557.05 L 932.39 565.37 Q 933.80 566.37 932.90 568.04 L 932.14 568.89" fill="none" stroke="#161616" stroke-width="1.20"/><path d="M 919.55 571.76 L 932.39 568.24" fill="none" stroke="#222" stroke-width="1.70" stroke-dasharray="1.0 0.35" stroke-linecap="butt"/><path d="M 919.55 571.76 Q 917.88 572.57 918.54 574.08 L 919.90 575.79 L 922.82 576.30" fill="none" stroke="#161616" stroke-width="1.20"/><path d="M 922.82 576.30 L 926.60 586.37" fill="none" stroke="#161616" stroke-width="1.20"/><path d="M 932.04 570.05 L 935.82 573.58 L 947.15 577.86 Q 950.68 579.37 950.93 582.14 L 950.93 585.67" fill="none" stroke="#161616" stroke-width="1.20"/><path d="M 921.81 574.69 L 935.16 572.17 M 923.32 576.95 L 935.92 573.68" fill="none" stroke="#161616" stroke-width="0.78"/><path d="M 892.09 562.24 L 918.04 570.40" fill="none" stroke="#161616" stroke-width="0.78"/><path d="M 900.15 560.98 L 912.49 558.06" fill="none" stroke="#333" stroke-width="1.60" stroke-dasharray="0.9 0.5" stroke-linecap="butt"/><path d="M 888.82 566.88 L 896.12 565.11 L 902.92 569.90 L 898.64 572.17 Z" fill="none" stroke="#161616" stroke-width="0.78"/><path d="M 907.20 575.19 L 911.99 573.27 L 917.53 575.69 L 913.00 577.96 Z" fill="none" stroke="#161616" stroke-width="0.78"/><path d="M 883.02 566.37 L 892.59 563.85" fill="none" stroke="#161616" stroke-width="0.90"/><path d="M 883.02 566.62 L 887.56 567.38 L 885.54 568.74 Z" fill="#222" stroke="#161616" stroke-width="0.78"/><path d="M 926.60 583.50 L 946.75 577.86 M 927.10 586.78 L 949.77 580.13" fill="none" stroke="#161616" stroke-width="0.78"/><path d="M 890.33 594.84 L 919.55 585.87" fill="none" stroke="#222" stroke-width="2.20" stroke-dasharray="0.85 0.6" stroke-linecap="butt"/><path d="M 890.33 593.43 Q 888.97 594.84 889.32 598.46 L 919.80 588.89 L 919.80 584.76" fill="none" stroke="#161616" stroke-width="0.78"/><path d="M 905.20 605.29 L 952.20 586.95 Q 956.23 585.44 960.26 587.46 L 973.36 595.26 Q 976.13 597.03 975.38 599.29" fill="none" stroke="#161616" stroke-width="1.20"/><path d="M 975.38 599.29 L 951.20 610.63 L 940.01 615.62 L 927.87 620.15 Q 923.84 621.41 920.31 619.90 L 906.21 610.58 Q 904.70 607.56 905.20 605.29" fill="none" stroke="#161616" stroke-width="1.20"/><path d="M 906.71 606.05 L 923.34 616.62 Q 925.35 617.38 927.37 616.88 L 940.01 612.34 L 954.22 605.59 L 973.61 598.54" fill="none" stroke="#161616" stroke-width="0.78"/><path d="M 938.60 595.01 L 954.72 604.33 L 940.01 609.82 L 925.10 615.37 L 911.25 605.29 Z" fill="none" stroke="#161616" stroke-width="0.90"/><path d="M 926.51 616.02 L 954.47 605.34" fill="none" stroke="#333" stroke-width="1.00" stroke-dasharray="0.5 0.7" stroke-linecap="butt"/><path d="M 941.12 593.45 L 942.13 592.95 L 942.93 593.70 L 941.93 594.26 Z" fill="none" stroke="#161616" stroke-width="0.60"/><path d="M 943.84 595.01 L 944.85 594.51 L 945.65 595.26 L 944.65 595.82 Z" fill="none" stroke="#161616" stroke-width="0.60"/><path d="M 946.56 596.57 L 947.57 596.07 L 948.38 596.83 L 947.37 597.38 Z" fill="none" stroke="#161616" stroke-width="0.60"/><path d="M 949.28 598.14 L 950.29 597.63 L 951.10 598.39 L 950.09 598.94 Z" fill="none" stroke="#161616" stroke-width="0.60"/><path d="M 952.00 599.70 L 953.01 599.19 L 953.82 599.95 L 952.81 600.50 Z" fill="none" stroke="#161616" stroke-width="0.60"/><path d="M 954.72 601.26 L 955.73 600.76 L 956.54 601.51 L 955.53 602.07 Z" fill="none" stroke="#161616" stroke-width="0.60"/><path d="M 944.19 591.79 C 944.19 591.54 944.49 591.33 944.85 591.33 C 945.21 591.33 945.50 591.54 945.50 591.79 C 945.50 592.04 945.21 592.25 944.85 592.25 C 944.49 592.25 944.19 592.04 944.19 591.79 Z" fill="#222" stroke="#161616" stroke-width="0.20"/><path d="M 947.32 590.73 C 947.32 590.48 947.61 590.27 947.97 590.27 C 948.33 590.27 948.63 590.48 948.63 590.73 C 948.63 590.98 948.33 591.19 947.97 591.19 C 947.61 591.19 947.32 590.98 947.32 590.73 Z" fill="#222" stroke="#161616" stroke-width="0.20"/><path d="M 950.44 589.67 C 950.44 589.42 950.73 589.21 951.10 589.21 C 951.46 589.21 951.75 589.42 951.75 589.67 C 951.75 589.93 951.46 590.13 951.10 590.13 C 950.73 590.13 950.44 589.93 950.44 589.67 Z" fill="#222" stroke="#161616" stroke-width="0.20"/><path d="M 953.56 588.61 C 953.56 588.36 953.86 588.16 954.22 588.16 C 954.58 588.16 954.87 588.36 954.87 588.61 C 954.87 588.87 954.58 589.07 954.22 589.07 C 953.86 589.07 953.56 588.87 953.56 588.61 Z" fill="#222" stroke="#161616" stroke-width="0.20"/><path d="M 949.48 593.00 C 949.48 592.72 949.80 592.50 950.19 592.50 C 950.58 592.50 950.89 592.72 950.89 593.00 C 950.89 593.27 950.58 593.49 950.19 593.49 C 949.80 593.49 949.48 593.27 949.48 593.00 Z" fill="#222" stroke="#161616" stroke-width="0.20"/><path d="M 951.85 594.31 C 951.85 594.03 952.17 593.81 952.56 593.81 C 952.95 593.81 953.26 594.03 953.26 594.31 C 953.26 594.58 952.95 594.80 952.56 594.80 C 952.17 594.80 951.85 594.58 951.85 594.31 Z" fill="#222" stroke="#161616" stroke-width="0.20"/><path d="M 954.22 595.62 C 954.22 595.34 954.53 595.12 954.92 595.12 C 955.31 595.12 955.63 595.34 955.63 595.62 C 955.63 595.89 955.31 596.11 954.92 596.11 C 954.53 596.11 954.22 595.89 954.22 595.62 Z" fill="#222" stroke="#161616" stroke-width="0.20"/><path d="M 956.59 596.93 C 956.59 596.65 956.90 596.43 957.29 596.43 C 957.68 596.43 958.00 596.65 958.00 596.93 C 958.00 597.20 957.68 597.42 957.29 597.42 C 956.90 597.42 956.59 597.20 956.59 596.93 Z" fill="#222" stroke="#161616" stroke-width="0.20"/><path d="M 951.60 591.99 C 951.60 591.72 951.92 591.50 952.30 591.50 C 952.69 591.50 953.01 591.72 953.01 591.99 C 953.01 592.26 952.69 592.48 952.30 592.48 C 951.92 592.48 951.60 592.26 951.60 591.99 Z" fill="#222" stroke="#161616" stroke-width="0.20"/><path d="M 953.97 593.30 C 953.97 593.03 954.28 592.81 954.67 592.81 C 955.06 592.81 955.38 593.03 955.38 593.30 C 955.38 593.57 955.06 593.79 954.67 593.79 C 954.28 593.79 953.97 593.57 953.97 593.30 Z" fill="#222" stroke="#161616" stroke-width="0.20"/><path d="M 956.34 594.61 C 956.34 594.34 956.65 594.12 957.04 594.12 C 957.43 594.12 957.75 594.34 957.75 594.61 C 957.75 594.88 957.43 595.10 957.04 595.10 C 956.65 595.10 956.34 594.88 956.34 594.61 Z" fill="#222" stroke="#161616" stroke-width="0.20"/><path d="M 958.70 595.92 C 958.70 595.65 959.02 595.43 959.41 595.43 C 959.80 595.43 960.11 595.65 960.11 595.92 C 960.11 596.19 959.80 596.41 959.41 596.41 C 959.02 596.41 958.70 596.19 958.70 595.92 Z" fill="#222" stroke="#161616" stroke-width="0.20"/><path d="M 953.72 590.98 C 953.72 590.71 954.03 590.49 954.42 590.49 C 954.81 590.49 955.13 590.71 955.13 590.98 C 955.13 591.26 954.81 591.48 954.42 591.48 C 954.03 591.48 953.72 591.26 953.72 590.98 Z" fill="#222" stroke="#161616" stroke-width="0.20"/><path d="M 956.08 592.29 C 956.08 592.02 956.40 591.80 956.79 591.80 C 957.18 591.80 957.49 592.02 957.49 592.29 C 957.49 592.56 957.18 592.79 956.79 592.79 C 956.40 592.79 956.08 592.56 956.08 592.29 Z" fill="#222" stroke="#161616" stroke-width="0.20"/><path d="M 958.45 593.60 C 958.45 593.33 958.77 593.11 959.16 593.11 C 959.55 593.11 959.86 593.33 959.86 593.60 C 959.86 593.87 959.55 594.10 959.16 594.10 C 958.77 594.10 958.45 593.87 958.45 593.60 Z" fill="#222" stroke="#161616" stroke-width="0.20"/><path d="M 960.82 594.91 C 960.82 594.64 961.13 594.42 961.52 594.42 C 961.91 594.42 962.23 594.64 962.23 594.91 C 962.23 595.18 961.91 595.41 961.52 595.41 C 961.13 595.41 960.82 595.18 960.82 594.91 Z" fill="#222" stroke="#161616" stroke-width="0.20"/><path d="M 959.06 590.13 C 959.06 589.85 959.37 589.63 959.76 589.63 C 960.15 589.63 960.47 589.85 960.47 590.13 C 960.47 590.40 960.15 590.62 959.76 590.62 C 959.37 590.62 959.06 590.40 959.06 590.13 Z" fill="#222" stroke="#161616" stroke-width="0.20"/><path d="M 963.34 598.54 C 963.34 598.27 963.65 598.05 964.04 598.05 C 964.43 598.05 964.75 598.27 964.75 598.54 C 964.75 598.81 964.43 599.03 964.04 599.03 C 963.65 599.03 963.34 598.81 963.34 598.54 Z" fill="#222" stroke="#161616" stroke-width="0.20"/><path d="M 959.56 600.55 C 959.56 600.28 959.87 600.06 960.26 600.06 C 960.65 600.06 960.97 600.28 960.97 600.55 C 960.97 600.83 960.65 601.05 960.26 601.05 C 959.87 601.05 959.56 600.83 959.56 600.55 Z" fill="#222" stroke="#161616" stroke-width="0.20"/><path d="M 954.07 588.31 C 954.07 587.92 954.50 587.61 955.03 587.61 C 955.55 587.61 955.98 587.92 955.98 588.31 C 955.98 588.70 955.55 589.02 955.03 589.02 C 954.50 589.02 954.07 588.70 954.07 588.31 Z" fill="#222" stroke="#161616" stroke-width="0.20"/><path d="M 960.57 592.14 C 960.57 591.61 961.33 591.18 962.28 591.18 C 963.23 591.18 963.99 591.61 963.99 592.14 C 963.99 592.67 963.23 593.10 962.28 593.10 C 961.33 593.10 960.57 592.67 960.57 592.14 Z" fill="none" stroke="#161616" stroke-width="0.65"/><path d="M 963.74 594.11 C 963.74 593.58 964.51 593.15 965.45 593.15 C 966.40 593.15 967.17 593.58 967.17 594.11 C 967.17 594.63 966.40 595.06 965.45 595.06 C 964.51 595.06 963.74 594.63 963.74 594.11 Z" fill="none" stroke="#161616" stroke-width="0.65"/><path d="M 966.91 596.07 C 966.91 595.54 967.68 595.11 968.63 595.11 C 969.57 595.11 970.34 595.54 970.34 596.07 C 970.34 596.60 969.57 597.03 968.63 597.03 C 967.68 597.03 966.91 596.60 966.91 596.07 Z" fill="none" stroke="#161616" stroke-width="0.65"/><path d="M 963.79 600.91 L 972.61 598.39" fill="none" stroke="#333" stroke-width="1.00" stroke-dasharray="0.5 0.5" stroke-linecap="butt"/><path d="M 911.80 603.93 L 938.50 593.90" fill="none" stroke="#333" stroke-width="1.50" stroke-dasharray="0.4 0.5" stroke-linecap="butt"/><path d="M 939.71 594.16 L 955.83 603.43" fill="none" stroke="#333" stroke-width="1.50" stroke-dasharray="0.4 0.5" stroke-linecap="butt"/><path d="M 881.01 608.56 L 898.64 602.77 Q 901.16 602.27 901.76 605.04 L 901.91 609.07 Q 901.66 610.83 899.65 611.59 L 887.56 615.37 Q 883.02 615.87 881.26 612.59 Z" fill="none" stroke="#161616" stroke-width="0.90"/><path d="M 886.05 609.57 L 897.13 606.05 Q 899.14 605.64 899.40 607.56 L 899.40 608.56 Q 899.14 609.67 897.63 610.18 L 889.57 612.70 Q 887.05 613.00 886.30 611.34 Z" fill="none" stroke="#161616" stroke-width="0.78"/><path d="M 883.78 610.33 L 898.89 605.29 M 884.79 612.09 L 899.14 607.30" fill="none" stroke="#161616" stroke-width="0.78"/><path d="M 901.66 600.00 Q 901.16 603.02 902.17 605.54 L 903.17 609.07 L 905.19 610.83" fill="none" stroke="#161616" stroke-width="1.20"/><path d="M 904.69 605.54 Q 904.08 608.06 905.44 610.33" fill="none" stroke="#161616" stroke-width="0.78"/><path d="M 881.01 620.15 L 908.72 611.84 M 880.00 616.62 L 902.67 609.57" fill="none" stroke="#161616" stroke-width="0.78"/><path d="M 880.00 621.66 Q 884.03 623.68 886.05 626.70 Q 887.05 629.72 888.06 630.23 L 899.14 636.78 Q 902.67 638.39 908.21 636.88 L 941.61 622.57 Q 944.99 620.91 944.13 619.85 L 939.09 617.03" fill="none" stroke="#161616" stroke-width="1.20"/><path d="M 889.57 617.63 L 894.61 619.40 L 910.23 634.76" fill="none" stroke="#444" stroke-width="1.20"/><path d="M 878.34 637.03 L 881.36 634.26 L 902.17 647.86" fill="none" stroke="#161616" stroke-width="1.20"/><path d="M 879.35 637.38 L 899.14 649.62" fill="none" stroke="#161616" stroke-width="0.78"/><path d="M 902.17 647.86 Q 906.20 644.84 910.23 644.84 Q 911.74 645.34 913.75 648.36 L 957.73 628.61 Q 960.10 627.20 959.75 625.09 Q 959.24 621.56 953.20 618.54 L 944.63 614.51" fill="none" stroke="#161616" stroke-width="1.20"/><path d="M 902.17 647.86 Q 905.19 650.38 908.21 650.38 L 913.75 648.46" fill="none" stroke="#161616" stroke-width="1.20"/><path d="M 899.14 649.87 Q 903.68 653.50 912.24 652.90 L 962.77 629.12" fill="none" stroke="#161616" stroke-width="0.78"/><path d="M 898.64 649.62 L 898.39 660.00" fill="none" stroke="#161616" stroke-width="1.20"/><path d="M 935.48 648.54 Q 934.82 647.03 937.85 645.67 Q 941.62 644.01 943.24 645.16 Q 943.89 646.68 941.02 648.04 Q 937.24 649.80 935.48 648.54 Z" fill="none" stroke="#161616" stroke-width="0.78"/><path d="M 951.20 611.51 L 953.72 616.55 Q 955.23 618.06 957.75 619.32 Q 962.28 621.59 963.29 625.11 Q 963.89 627.13 963.69 630.15 L 963.39 638.21 L 962.53 648.29 L 962.03 655.34 L 961.52 665.11 L 960.77 673.17 Q 960.26 676.20 957.75 677.71 L 947.17 684.76 L 945.15 685.77 L 942.63 685.01 L 925.00 695.34" fill="none" stroke="#161616" stroke-width="1.20"/><path d="M 945.15 613.53 L 953.21 617.56" fill="none" stroke="#161616" stroke-width="1.40" stroke-dasharray="0.5 0.6" stroke-linecap="butt"/><path d="M 960.52 639.72 L 959.76 650.00 L 959.51 657.05 Q 959.26 658.11 957.75 658.82" fill="none" stroke="#161616" stroke-width="1.20"/><path d="M 912.24 662.09 L 924.99 657.36 L 960.25 639.72 L 962.77 638.21" fill="none" stroke="#161616" stroke-width="1.20"/><path d="M 911.23 662.59 L 911.23 682.24 Q 910.98 684.51 913.25 684.76" fill="none" stroke="#161616" stroke-width="1.20"/><path d="M 911.23 682.24 L 940.00 669.40 L 957.73 658.82" fill="none" stroke="#161616" stroke-width="1.20"/><path d="M 913.25 684.76 L 940.00 672.17 L 958.24 660.83" fill="none" stroke="#161616" stroke-width="0.78"/><path d="M 909.47 662.59 L 912.49 662.09 L 912.49 668.14 L 909.47 667.13 Z" fill="#888" stroke="#161616" stroke-width="0.78"/><path d="M 898.64 649.65 L 898.39 661.08 L 896.62 701.89" fill="none" stroke="#161616" stroke-width="1.20"/><path d="M 898.39 661.34 Q 902.67 663.85 909.22 663.35 L 912.24 662.09" fill="none" stroke="#161616" stroke-width="0.78"/><path d="M 910.23 702.90 L 910.73 692.82 Q 911.23 691.31 913.25 690.81 L 924.99 685.87 L 956.22 668.64 Q 958.24 667.88 958.74 669.65 L 957.98 676.70" fill="none" stroke="#161616" stroke-width="1.20"/><path d="M 957.23 669.90 L 957.23 676.70" fill="none" stroke="#161616" stroke-width="0.78"/><path d="M 913.50 692.82 L 913.25 701.89" fill="none" stroke="#777" stroke-width="1.80"/><path d="M 914.76 692.32 L 914.51 700.88" fill="none" stroke="#161616" stroke-width="0.78"/><path d="M 948.68 673.68 L 952.46 672.67 L 952.71 676.70 L 949.18 678.21 Z" fill="none" stroke="#161616" stroke-width="0.78"/><path d="M 845.08 650.00 L 845.33 668.14 L 857.42 678.46 L 858.43 675.04 L 861.45 677.71 L 869.76 684.26 L 870.52 686.52 L 874.29 687.78 L 881.10 692.82 Q 881.60 695.34 882.61 697.36 Q 884.12 699.62 886.89 701.39 L 890.42 701.39" fill="none" stroke="#161616" stroke-width="1.20"/><path d="M 886.90 701.39 L 890.08 701.39 L 897.13 705.92 Q 901.16 707.03 906.20 705.42 L 910.23 703.40 L 923.83 696.85 L 924.84 694.94 L 942.62 685.01 L 945.14 685.77 L 947.15 684.76 L 957.73 677.71" fill="none" stroke="#161616" stroke-width="1.20"/><path d="M 896.62 701.89 Q 900.15 704.41 905.19 704.41 L 909.47 702.90" fill="none" stroke="#161616" stroke-width="1.20"/><path d="M 874.29 634.79 L 881.35 650.00 L 886.39 658.56 L 887.39 700.38" fill="none" stroke="#161616" stroke-width="0.78"/><path d="M 878.32 636.80 L 885.38 650.00 L 889.66 657.56 L 889.91 691.81 L 890.42 700.38" fill="none" stroke="#161616" stroke-width="0.78"/><path d="M 890.06 691.81 L 896.11 696.35 M 890.06 697.86 L 896.11 701.89" fill="none" stroke="#161616" stroke-width="0.78"/><path d="M 845.83 631.74 L 853.64 636.78 L 853.64 648.87 L 845.83 643.83 Z" fill="#4c4c4c" stroke="#4c4c4c" stroke-width="0.20"/><path d="M 845.98 633.25 L 853.54 636.37" fill="none" stroke="#8a8a8a" stroke-width="0.45"/><path d="M 845.98 635.16 L 853.54 638.29" fill="none" stroke="#8a8a8a" stroke-width="0.45"/><path d="M 845.98 637.08 L 853.54 640.20" fill="none" stroke="#8a8a8a" stroke-width="0.45"/><path d="M 845.98 638.99 L 853.54 642.12" fill="none" stroke="#8a8a8a" stroke-width="0.45"/><path d="M 845.98 640.91 L 853.54 644.03" fill="none" stroke="#8a8a8a" stroke-width="0.45"/><path d="M 845.98 642.82 L 853.54 645.94" fill="none" stroke="#8a8a8a" stroke-width="0.45"/></g>
<path d="M797.1,604.6 L843.7,631 L843.7,711.1 L797.1,684.4Z" fill="#c1a776" stroke="#1a1a1a" stroke-width="0.9" stroke-linejoin="miter"/>
<path d="M801.7,644.2 L804.6,645.6 L804.8,649.8 L807.1,650.9 L807.1,652.8 L805.1,652.4 L805.1,654.1 L807.1,654.8 L806.9,656.6 L804.6,657.0 L801.7,654.8Z" fill="#1a1a1a"/>
<rect x="1006.8" y="621.7" width="38" height="50" fill="#fff" stroke="#111" stroke-width="1"/>
<path d="M1044.8,621.7 v50.4 h-38" fill="none" stroke="#111" stroke-width="2.2" transform="translate(0.6,0.6)"/>
<rect x="1000.2" y="618.1" width="38" height="50" fill="#fff" stroke="#111" stroke-width="1"/>
<path d="M1038.2,618.1 v50.4 h-38" fill="none" stroke="#111" stroke-width="2.2" transform="translate(0.6,0.6)"/>
<rect x="993.5" y="614.4" width="38.2" height="50" fill="#fff" stroke="#111" stroke-width="1"/>
<path d="M1032.2,614.4 v50.6 h-38" fill="none" stroke="#111" stroke-width="2"/>
<rect x="998.7" y="621.0" width="1.5" height="1.2" fill="#111"/><rect x="1002.4" y="621.0" width="1.5" height="1.2" fill="#111"/><rect x="1005.9" y="621.0" width="1.5" height="1.2" fill="#111"/><rect x="1009.6" y="621.0" width="1.5" height="1.2" fill="#111"/><rect x="1013.9" y="621.0" width="1.5" height="1.2" fill="#111"/><rect x="1017.3" y="621.0" width="1.5" height="1.2" fill="#111"/><rect x="1020.9" y="621.0" width="1.5" height="1.2" fill="#111"/><rect x="1024.6" y="621.0" width="1.5" height="1.2" fill="#111"/><rect x="998.7" y="624.9" width="1.5" height="1.2" fill="#111"/><rect x="1002.4" y="624.9" width="1.5" height="1.2" fill="#111"/><rect x="1005.9" y="624.9" width="1.5" height="1.2" fill="#111"/><rect x="1009.6" y="624.9" width="1.5" height="1.2" fill="#111"/><rect x="1013.9" y="624.9" width="1.5" height="1.2" fill="#111"/><rect x="998.7" y="629.0" width="1.5" height="1.2" fill="#111"/><rect x="1002.4" y="629.0" width="1.5" height="1.2" fill="#111"/><rect x="1005.9" y="629.0" width="1.5" height="1.2" fill="#111"/><rect x="1009.6" y="629.0" width="1.5" height="1.2" fill="#111"/><rect x="1013.9" y="629.0" width="1.5" height="1.2" fill="#111"/><rect x="1017.3" y="629.0" width="1.5" height="1.2" fill="#111"/><rect x="1020.9" y="629.0" width="1.5" height="1.2" fill="#111"/><rect x="1024.6" y="629.0" width="1.5" height="1.2" fill="#111"/><rect x="998.7" y="632.9" width="1.5" height="1.2" fill="#111"/><rect x="1002.4" y="632.9" width="1.5" height="1.2" fill="#111"/><rect x="1005.9" y="632.9" width="1.5" height="1.2" fill="#111"/><rect x="1009.6" y="632.9" width="1.5" height="1.2" fill="#111"/><rect x="1013.9" y="632.9" width="1.5" height="1.2" fill="#111"/><rect x="1017.3" y="632.9" width="1.5" height="1.2" fill="#111"/><rect x="998.7" y="636.7" width="1.5" height="1.2" fill="#111"/><rect x="1002.4" y="636.7" width="1.5" height="1.2" fill="#111"/><rect x="1005.9" y="636.7" width="1.5" height="1.2" fill="#111"/><rect x="1009.6" y="636.7" width="1.5" height="1.2" fill="#111"/><rect x="1013.9" y="636.7" width="1.5" height="1.2" fill="#111"/><rect x="1017.3" y="636.7" width="1.5" height="1.2" fill="#111"/><rect x="998.7" y="640.5" width="1.5" height="1.2" fill="#111"/><rect x="1002.4" y="640.5" width="1.5" height="1.2" fill="#111"/><rect x="1005.9" y="640.5" width="1.5" height="1.2" fill="#111"/><rect x="1009.6" y="640.5" width="1.5" height="1.2" fill="#111"/><rect x="1013.9" y="640.5" width="1.5" height="1.2" fill="#111"/><rect x="1017.3" y="640.5" width="1.5" height="1.2" fill="#111"/><rect x="1020.9" y="640.5" width="1.5" height="1.2" fill="#111"/><rect x="998.7" y="644.8" width="1.5" height="1.2" fill="#111"/><rect x="1002.4" y="644.8" width="1.5" height="1.2" fill="#111"/><rect x="1005.9" y="644.8" width="1.5" height="1.2" fill="#111"/><rect x="1009.6" y="644.8" width="1.5" height="1.2" fill="#111"/><rect x="998.7" y="648.5" width="1.5" height="1.2" fill="#111"/><rect x="1002.4" y="648.5" width="1.5" height="1.2" fill="#111"/><rect x="1005.9" y="648.5" width="1.5" height="1.2" fill="#111"/><rect x="1009.6" y="648.5" width="1.5" height="1.2" fill="#111"/><rect x="1013.9" y="648.5" width="1.5" height="1.2" fill="#111"/><rect x="1017.3" y="648.5" width="1.5" height="1.2" fill="#111"/><rect x="998.7" y="652.9" width="1.5" height="1.2" fill="#111"/><rect x="1002.4" y="652.9" width="1.5" height="1.2" fill="#111"/><rect x="1005.9" y="652.9" width="1.5" height="1.2" fill="#111"/><rect x="1009.6" y="652.9" width="1.5" height="1.2" fill="#111"/><rect x="1013.9" y="652.9" width="1.5" height="1.2" fill="#111"/><rect x="1017.3" y="652.9" width="1.5" height="1.2" fill="#111"/><rect x="1020.9" y="652.9" width="1.5" height="1.2" fill="#111"/><rect x="1024.6" y="652.9" width="1.5" height="1.2" fill="#111"/><rect x="998.7" y="656.6" width="1.5" height="1.2" fill="#111"/><rect x="1002.4" y="656.6" width="1.5" height="1.2" fill="#111"/><rect x="1005.9" y="656.6" width="1.5" height="1.2" fill="#111"/><rect x="1009.6" y="656.6" width="1.5" height="1.2" fill="#111"/><rect x="1013.9" y="656.6" width="1.5" height="1.2" fill="#111"/><rect x="1017.3" y="656.6" width="1.5" height="1.2" fill="#111"/>
<path d="M963.5,633.5 L980.6,633.5 L980.6,625.2 L993.3,639.9 L980.6,654.4 L980.6,646.4 L963.5,646.4Z" fill="#f5846d" stroke="#111" stroke-width="1.15" stroke-linejoin="miter" stroke-miterlimit="8"/>
<path d="M787.1,684.7 L808.8,675.5 L802.4,670.9 L827.4,673.3 L828.8,687.6 L822.0,683.3 L790.0,696.5 L780.0,700.5 L777.0,689.0Z" fill="#f5846d" stroke="#111" stroke-width="1.15" stroke-linejoin="miter" stroke-miterlimit="8"/>
<circle cx="742.8" cy="541.2" r="44.71" fill="#fff" stroke="#8e8c8d" stroke-width="3.77" filter="url(#sh)"/>
<circle cx="742.40" cy="519.60" r="15.00" fill="#636162"/><path d="M724.35,551.88 C724.35,541.38 732.23,534.60 742.40,534.60 C752.57,534.60 760.45,541.38 760.45,551.88 L760.45,570.18 C760.45,574.84 754.26,577.47 742.40,577.47 C730.54,577.47 724.35,574.84 724.35,570.18 Z" fill="#636162"/>
<circle cx="743.1" cy="702.0" r="44.91" fill="#fff" stroke="#8e8c8d" stroke-width="3.79" filter="url(#sh)"/>
<circle cx="742.70" cy="680.31" r="15.06" fill="#636162"/><path d="M724.58,712.73 C724.58,702.17 732.49,695.37 742.70,695.37 C752.91,695.37 760.82,702.17 760.82,712.73 L760.82,731.11 C760.82,735.79 754.61,738.42 742.70,738.42 C730.79,738.42 724.58,735.79 724.58,731.11 Z" fill="#636162"/>
<circle cx="1057.9" cy="606.0" r="34.05" fill="#fff" stroke="#8e8c8d" stroke-width="4.10" filter="url(#sh)"/>
<circle cx="1057.50" cy="589.40" r="11.62" fill="#636162"/><path d="M1043.52,614.41 C1043.52,606.27 1049.62,601.02 1057.50,601.02 C1065.38,601.02 1071.48,606.27 1071.48,614.41 L1071.48,628.59 C1071.48,632.20 1066.69,634.23 1057.50,634.23 C1048.31,634.23 1043.52,632.20 1043.52,628.59 Z" fill="#636162"/>
<path d="M820.4,564.6 L830.5,568.7 L832.5,561.6 L838.6,579.7 L821.8,588.1 L824.4,581.1 L812.7,576.0 L805.0,572.6 L812.0,561.2Z" fill="#f5846d" stroke="#111" stroke-width="1.15" stroke-linejoin="miter" stroke-miterlimit="8"/>
<circle cx="794.1" cy="555.2" r="25.9" fill="#fff57f" stroke="#8e8c8d" stroke-width="4.2" filter="url(#sh)"/>
<circle cx="805.8" cy="556.3" r="7.6" fill="#c8c8c8" stroke="#111" stroke-width="1.3"/>
<path d="M772.7,554.9 L778.1,545.5 L787.2,548.8 L787.2,552.3 L791.5,552.3 L793.2,550.9 L794.9,551.6 L795.9,553.9 L798.6,553.9 L801.3,551.9 L805.3,551.9 L805.3,559.6 L804.3,559.6 L804.3,556.6 L787.2,556.6 L787.2,560.3 L778.1,564.3Z" fill="#8a8a8a" stroke="#111" stroke-width="1.25" stroke-linejoin="round"/>
<path d="M805.6,550.2 L805.6,559.6 L804.2,559.6" stroke="#111" stroke-width="1.3" fill="none"/>
<ellipse cx="776.6" cy="554.9" rx="0.9" ry="2.6" fill="#222"/>
<g transform="translate(-983.28,421.38) scale(1.4)" stroke-linejoin="round" stroke-linecap="round"><path d="M 838.78 610.00 L 838.78 574.69" fill="none" stroke="#161616" stroke-width="0.74"/><path d="M 838.78 574.69 Q 838.93 572.92 840.79 572.17 L 884.62 560.08 Q 886.89 559.32 888.90 560.58 L 891.68 561.89" fill="none" stroke="#161616" stroke-width="0.98"/><path d="M 839.03 600.00 L 839.03 615.11 Q 839.28 617.63 841.05 620.15 L 843.82 623.17 Q 844.82 624.43 844.82 627.20" fill="none" stroke="#161616" stroke-width="0.74"/><path d="M 844.82 627.20 L 844.82 650.38" fill="none" stroke="#555" stroke-width="0.64"/><path d="M 844.97 650.38 L 844.97 660.00" fill="none" stroke="#161616" stroke-width="0.74"/><path d="M 840.04 619.14 L 841.55 622.17" fill="none" stroke="#161616" stroke-width="0.64"/><path d="M 840.79 572.92 L 873.29 589.80 Q 877.82 591.81 882.86 590.30 L 922.56 577.05" fill="none" stroke="#161616" stroke-width="0.64"/><path d="M 838.78 582.24 L 872.28 600.88 Q 878.32 603.40 884.37 601.39 L 926.59 586.37" fill="none" stroke="#161616" stroke-width="0.98"/><path d="M 838.78 587.28 L 874.29 606.68 Q 877.82 607.93 881.85 606.93" fill="none" stroke="#161616" stroke-width="0.98"/><path d="M 881.85 606.83 L 950.92 583.30" fill="none" stroke="#1a1a1a" stroke-width="1.12" stroke-dasharray="1.0 0.45" stroke-linecap="butt"/><path d="M 881.85 607.43 L 950.92 583.90" fill="none" stroke="#161616" stroke-width="0.64"/><path d="M 838.78 595.37 L 873.29 615.62 Q 876.81 617.38 880.59 616.02" fill="none" stroke="#161616" stroke-width="0.98"/><path d="M 875.30 618.64 L 875.30 630.23 Q 875.55 632.24 876.56 633.00" fill="none" stroke="#777" stroke-width="0.64"/><path d="M 880.59 609.07 L 880.59 634.26" fill="none" stroke="#555" stroke-width="0.64"/><path d="M 853.39 572.67 L 877.82 565.37 Q 879.84 565.01 881.60 566.12 L 907.85 578.87 L 883.61 587.38 Q 880.34 588.19 877.82 586.78 L 854.40 574.94 Q 852.38 573.78 853.39 572.67 Z" fill="none" stroke="#161616" stroke-width="0.78"/><path d="M 867.75 570.91 L 890.42 580.48 M 865.73 574.18 L 889.41 584.76" fill="none" stroke="#161616" stroke-width="0.64"/><path d="M 863.36 572.17 C 863.36 571.55 863.86 571.06 864.47 571.06 C 865.08 571.06 865.58 571.55 865.58 572.17 C 865.58 572.78 865.08 573.27 864.47 573.27 C 863.86 573.27 863.36 572.78 863.36 572.17 Z" fill="none" stroke="#161616" stroke-width="0.64"/><path d="M 890.83 580.48 L 892.09 578.72 L 896.62 577.61 L 897.38 579.72 L 901.41 577.96 L 902.17 579.22 L 893.60 582.75 L 892.09 583.00 Z" fill="none" stroke="#161616" stroke-width="0.64"/><path d="M 894.11 578.97 L 895.11 581.23 M 898.14 578.21 L 896.62 580.73" fill="none" stroke="#161616" stroke-width="0.64"/><path d="M 891.69 561.89 L 911.23 556.55 Q 912.49 556.25 913.85 557.05 L 932.39 565.37 Q 933.80 566.37 932.90 568.04 L 932.14 568.89" fill="none" stroke="#161616" stroke-width="0.98"/><path d="M 919.55 571.76 L 932.39 568.24" fill="none" stroke="#222" stroke-width="1.00" stroke-dasharray="1.0 0.35" stroke-linecap="butt"/><path d="M 919.55 571.76 Q 917.88 572.57 918.54 574.08 L 919.90 575.79 L 922.82 576.30" fill="none" stroke="#161616" stroke-width="0.98"/><path d="M 922.82 576.30 L 926.60 586.37" fill="none" stroke="#161616" stroke-width="0.98"/><path d="M 932.04 570.05 L 935.82 573.58 L 947.15 577.86 Q 950.68 579.37 950.93 582.14 L 950.93 585.67" fill="none" stroke="#161616" stroke-width="0.98"/><path d="M 921.81 574.69 L 935.16 572.17 M 923.32 576.95 L 935.92 573.68" fill="none" stroke="#161616" stroke-width="0.64"/><path d="M 892.09 562.24 L 918.04 570.40" fill="none" stroke="#161616" stroke-width="0.64"/><path d="M 900.15 560.98 L 912.49 558.06" fill="none" stroke="#333" stroke-width="0.94" stroke-dasharray="0.9 0.5" stroke-linecap="butt"/><path d="M 888.82 566.88 L 896.12 565.11 L 902.92 569.90 L 898.64 572.17 Z" fill="none" stroke="#161616" stroke-width="0.64"/><path d="M 907.20 575.19 L 911.99 573.27 L 917.53 575.69 L 913.00 577.96 Z" fill="none" stroke="#161616" stroke-width="0.64"/><path d="M 883.02 566.37 L 892.59 563.85" fill="none" stroke="#161616" stroke-width="0.74"/><path d="M 883.02 566.62 L 887.56 567.38 L 885.54 568.74 Z" fill="#222" stroke="#161616" stroke-width="0.64"/><path d="M 926.60 583.50 L 946.75 577.86 M 927.10 586.78 L 949.77 580.13" fill="none" stroke="#161616" stroke-width="0.64"/><path d="M 890.33 594.84 L 919.55 585.87" fill="none" stroke="#222" stroke-width="1.29" stroke-dasharray="0.85 0.6" stroke-linecap="butt"/><path d="M 890.33 593.43 Q 888.97 594.84 889.32 598.46 L 919.80 588.89 L 919.80 584.76" fill="none" stroke="#161616" stroke-width="0.64"/><path d="M 905.20 605.29 L 952.20 586.95 Q 956.23 585.44 960.26 587.46 L 973.36 595.26 Q 976.13 597.03 975.38 599.29" fill="none" stroke="#161616" stroke-width="0.98"/><path d="M 975.38 599.29 L 951.20 610.63 L 940.01 615.62 L 927.87 620.15 Q 923.84 621.41 920.31 619.90 L 906.21 610.58 Q 904.70 607.56 905.20 605.29" fill="none" stroke="#161616" stroke-width="0.98"/><path d="M 906.71 606.05 L 923.34 616.62 Q 925.35 617.38 927.37 616.88 L 940.01 612.34 L 954.22 605.59 L 973.61 598.54" fill="none" stroke="#161616" stroke-width="0.64"/><path d="M 938.60 595.01 L 954.72 604.33 L 940.01 609.82 L 925.10 615.37 L 911.25 605.29 Z" fill="none" stroke="#161616" stroke-width="0.74"/><path d="M 926.51 616.02 L 954.47 605.34" fill="none" stroke="#333" stroke-width="0.59" stroke-dasharray="0.5 0.7" stroke-linecap="butt"/><path d="M 941.12 593.45 L 942.13 592.95 L 942.93 593.70 L 941.93 594.26 Z" fill="none" stroke="#161616" stroke-width="0.49"/><path d="M 943.84 595.01 L 944.85 594.51 L 945.65 595.26 L 944.65 595.82 Z" fill="none" stroke="#161616" stroke-width="0.49"/><path d="M 946.56 596.57 L 947.57 596.07 L 948.38 596.83 L 947.37 597.38 Z" fill="none" stroke="#161616" stroke-width="0.49"/><path d="M 949.28 598.14 L 950.29 597.63 L 951.10 598.39 L 950.09 598.94 Z" fill="none" stroke="#161616" stroke-width="0.49"/><path d="M 952.00 599.70 L 953.01 599.19 L 953.82 599.95 L 952.81 600.50 Z" fill="none" stroke="#161616" stroke-width="0.49"/><path d="M 954.72 601.26 L 955.73 600.76 L 956.54 601.51 L 955.53 602.07 Z" fill="none" stroke="#161616" stroke-width="0.49"/><path d="M 944.19 591.79 C 944.19 591.54 944.49 591.33 944.85 591.33 C 945.21 591.33 945.50 591.54 945.50 591.79 C 945.50 592.04 945.21 592.25 944.85 592.25 C 944.49 592.25 944.19 592.04 944.19 591.79 Z" fill="#222" stroke="#161616" stroke-width="0.16"/><path d="M 947.32 590.73 C 947.32 590.48 947.61 590.27 947.97 590.27 C 948.33 590.27 948.63 590.48 948.63 590.73 C 948.63 590.98 948.33 591.19 947.97 591.19 C 947.61 591.19 947.32 590.98 947.32 590.73 Z" fill="#222" stroke="#161616" stroke-width="0.16"/><path d="M 950.44 589.67 C 950.44 589.42 950.73 589.21 951.10 589.21 C 951.46 589.21 951.75 589.42 951.75 589.67 C 951.75 589.93 951.46 590.13 951.10 590.13 C 950.73 590.13 950.44 589.93 950.44 589.67 Z" fill="#222" stroke="#161616" stroke-width="0.16"/><path d="M 953.56 588.61 C 953.56 588.36 953.86 588.16 954.22 588.16 C 954.58 588.16 954.87 588.36 954.87 588.61 C 954.87 588.87 954.58 589.07 954.22 589.07 C 953.86 589.07 953.56 588.87 953.56 588.61 Z" fill="#222" stroke="#161616" stroke-width="0.16"/><path d="M 949.48 593.00 C 949.48 592.72 949.80 592.50 950.19 592.50 C 950.58 592.50 950.89 592.72 950.89 593.00 C 950.89 593.27 950.58 593.49 950.19 593.49 C 949.80 593.49 949.48 593.27 949.48 593.00 Z" fill="#222" stroke="#161616" stroke-width="0.16"/><path d="M 951.85 594.31 C 951.85 594.03 952.17 593.81 952.56 593.81 C 952.95 593.81 953.26 594.03 953.26 594.31 C 953.26 594.58 952.95 594.80 952.56 594.80 C 952.17 594.80 951.85 594.58 951.85 594.31 Z" fill="#222" stroke="#161616" stroke-width="0.16"/><path d="M 954.22 595.62 C 954.22 595.34 954.53 595.12 954.92 595.12 C 955.31 595.12 955.63 595.34 955.63 595.62 C 955.63 595.89 955.31 596.11 954.92 596.11 C 954.53 596.11 954.22 595.89 954.22 595.62 Z" fill="#222" stroke="#161616" stroke-width="0.16"/><path d="M 956.59 596.93 C 956.59 596.65 956.90 596.43 957.29 596.43 C 957.68 596.43 958.00 596.65 958.00 596.93 C 958.00 597.20 957.68 597.42 957.29 597.42 C 956.90 597.42 956.59 597.20 956.59 596.93 Z" fill="#222" stroke="#161616" stroke-width="0.16"/><path d="M 951.60 591.99 C 951.60 591.72 951.92 591.50 952.30 591.50 C 952.69 591.50 953.01 591.72 953.01 591.99 C 953.01 592.26 952.69 592.48 952.30 592.48 C 951.92 592.48 951.60 592.26 951.60 591.99 Z" fill="#222" stroke="#161616" stroke-width="0.16"/><path d="M 953.97 593.30 C 953.97 593.03 954.28 592.81 954.67 592.81 C 955.06 592.81 955.38 593.03 955.38 593.30 C 955.38 593.57 955.06 593.79 954.67 593.79 C 954.28 593.79 953.97 593.57 953.97 593.30 Z" fill="#222" stroke="#161616" stroke-width="0.16"/><path d="M 956.34 594.61 C 956.34 594.34 956.65 594.12 957.04 594.12 C 957.43 594.12 957.75 594.34 957.75 594.61 C 957.75 594.88 957.43 595.10 957.04 595.10 C 956.65 595.10 956.34 594.88 956.34 594.61 Z" fill="#222" stroke="#161616" stroke-width="0.16"/><path d="M 958.70 595.92 C 958.70 595.65 959.02 595.43 959.41 595.43 C 959.80 595.43 960.11 595.65 960.11 595.92 C 960.11 596.19 959.80 596.41 959.41 596.41 C 959.02 596.41 958.70 596.19 958.70 595.92 Z" fill="#222" stroke="#161616" stroke-width="0.16"/><path d="M 953.72 590.98 C 953.72 590.71 954.03 590.49 954.42 590.49 C 954.81 590.49 955.13 590.71 955.13 590.98 C 955.13 591.26 954.81 591.48 954.42 591.48 C 954.03 591.48 953.72 591.26 953.72 590.98 Z" fill="#222" stroke="#161616" stroke-width="0.16"/><path d="M 956.08 592.29 C 956.08 592.02 956.40 591.80 956.79 591.80 C 957.18 591.80 957.49 592.02 957.49 592.29 C 957.49 592.56 957.18 592.79 956.79 592.79 C 956.40 592.79 956.08 592.56 956.08 592.29 Z" fill="#222" stroke="#161616" stroke-width="0.16"/><path d="M 958.45 593.60 C 958.45 593.33 958.77 593.11 959.16 593.11 C 959.55 593.11 959.86 593.33 959.86 593.60 C 959.86 593.87 959.55 594.10 959.16 594.10 C 958.77 594.10 958.45 593.87 958.45 593.60 Z" fill="#222" stroke="#161616" stroke-width="0.16"/><path d="M 960.82 594.91 C 960.82 594.64 961.13 594.42 961.52 594.42 C 961.91 594.42 962.23 594.64 962.23 594.91 C 962.23 595.18 961.91 595.41 961.52 595.41 C 961.13 595.41 960.82 595.18 960.82 594.91 Z" fill="#222" stroke="#161616" stroke-width="0.16"/><path d="M 959.06 590.13 C 959.06 589.85 959.37 589.63 959.76 589.63 C 960.15 589.63 960.47 589.85 960.47 590.13 C 960.47 590.40 960.15 590.62 959.76 590.62 C 959.37 590.62 959.06 590.40 959.06 590.13 Z" fill="#222" stroke="#161616" stroke-width="0.16"/><path d="M 963.34 598.54 C 963.34 598.27 963.65 598.05 964.04 598.05 C 964.43 598.05 964.75 598.27 964.75 598.54 C 964.75 598.81 964.43 599.03 964.04 599.03 C 963.65 599.03 963.34 598.81 963.34 598.54 Z" fill="#222" stroke="#161616" stroke-width="0.16"/><path d="M 959.56 600.55 C 959.56 600.28 959.87 600.06 960.26 600.06 C 960.65 600.06 960.97 600.28 960.97 600.55 C 960.97 600.83 960.65 601.05 960.26 601.05 C 959.87 601.05 959.56 600.83 959.56 600.55 Z" fill="#222" stroke="#161616" stroke-width="0.16"/><path d="M 954.07 588.31 C 954.07 587.92 954.50 587.61 955.03 587.61 C 955.55 587.61 955.98 587.92 955.98 588.31 C 955.98 588.70 955.55 589.02 955.03 589.02 C 954.50 589.02 954.07 588.70 954.07 588.31 Z" fill="#222" stroke="#161616" stroke-width="0.16"/><path d="M 960.57 592.14 C 960.57 591.61 961.33 591.18 962.28 591.18 C 963.23 591.18 963.99 591.61 963.99 592.14 C 963.99 592.67 963.23 593.10 962.28 593.10 C 961.33 593.10 960.57 592.67 960.57 592.14 Z" fill="none" stroke="#161616" stroke-width="0.53"/><path d="M 963.74 594.11 C 963.74 593.58 964.51 593.15 965.45 593.15 C 966.40 593.15 967.17 593.58 967.17 594.11 C 967.17 594.63 966.40 595.06 965.45 595.06 C 964.51 595.06 963.74 594.63 963.74 594.11 Z" fill="none" stroke="#161616" stroke-width="0.53"/><path d="M 966.91 596.07 C 966.91 595.54 967.68 595.11 968.63 595.11 C 969.57 595.11 970.34 595.54 970.34 596.07 C 970.34 596.60 969.57 597.03 968.63 597.03 C 967.68 597.03 966.91 596.60 966.91 596.07 Z" fill="none" stroke="#161616" stroke-width="0.53"/><path d="M 963.79 600.91 L 972.61 598.39" fill="none" stroke="#333" stroke-width="0.59" stroke-dasharray="0.5 0.5" stroke-linecap="butt"/><path d="M 911.80 603.93 L 938.50 593.90" fill="none" stroke="#333" stroke-width="0.88" stroke-dasharray="0.4 0.5" stroke-linecap="butt"/><path d="M 939.71 594.16 L 955.83 603.43" fill="none" stroke="#333" stroke-width="0.88" stroke-dasharray="0.4 0.5" stroke-linecap="butt"/><path d="M 881.01 608.56 L 898.64 602.77 Q 901.16 602.27 901.76 605.04 L 901.91 609.07 Q 901.66 610.83 899.65 611.59 L 887.56 615.37 Q 883.02 615.87 881.26 612.59 Z" fill="none" stroke="#161616" stroke-width="0.74"/><path d="M 886.05 609.57 L 897.13 606.05 Q 899.14 605.64 899.40 607.56 L 899.40 608.56 Q 899.14 609.67 897.63 610.18 L 889.57 612.70 Q 887.05 613.00 886.30 611.34 Z" fill="none" stroke="#161616" stroke-width="0.64"/><path d="M 883.78 610.33 L 898.89 605.29 M 884.79 612.09 L 899.14 607.30" fill="none" stroke="#161616" stroke-width="0.64"/><path d="M 901.66 600.00 Q 901.16 603.02 902.17 605.54 L 903.17 609.07 L 905.19 610.83" fill="none" stroke="#161616" stroke-width="0.98"/><path d="M 904.69 605.54 Q 904.08 608.06 905.44 610.33" fill="none" stroke="#161616" stroke-width="0.64"/><path d="M 881.01 620.15 L 908.72 611.84 M 880.00 616.62 L 902.67 609.57" fill="none" stroke="#161616" stroke-width="0.64"/><path d="M 880.00 621.66 Q 884.03 623.68 886.05 626.70 Q 887.05 629.72 888.06 630.23 L 899.14 636.78 Q 902.67 638.39 908.21 636.88 L 941.61 622.57 Q 944.99 620.91 944.13 619.85 L 939.09 617.03" fill="none" stroke="#161616" stroke-width="0.98"/><path d="M 889.57 617.63 L 894.61 619.40 L 910.23 634.76" fill="none" stroke="#444" stroke-width="0.98"/><path d="M 878.34 637.03 L 881.36 634.26 L 902.17 647.86" fill="none" stroke="#161616" stroke-width="0.98"/><path d="M 879.35 637.38 L 899.14 649.62" fill="none" stroke="#161616" stroke-width="0.64"/><path d="M 902.17 647.86 Q 906.20 644.84 910.23 644.84 Q 911.74 645.34 913.75 648.36 L 957.73 628.61 Q 960.10 627.20 959.75 625.09 Q 959.24 621.56 953.20 618.54 L 944.63 614.51" fill="none" stroke="#161616" stroke-width="0.98"/><path d="M 902.17 647.86 Q 905.19 650.38 908.21 650.38 L 913.75 648.46" fill="none" stroke="#161616" stroke-width="0.98"/><path d="M 899.14 649.87 Q 903.68 653.50 912.24 652.90 L 962.77 629.12" fill="none" stroke="#161616" stroke-width="0.64"/><path d="M 898.64 649.62 L 898.39 660.00" fill="none" stroke="#161616" stroke-width="0.98"/><path d="M 935.48 648.54 Q 934.82 647.03 937.85 645.67 Q 941.62 644.01 943.24 645.16 Q 943.89 646.68 941.02 648.04 Q 937.24 649.80 935.48 648.54 Z" fill="none" stroke="#161616" stroke-width="0.64"/><path d="M 951.20 611.51 L 953.72 616.55 Q 955.23 618.06 957.75 619.32 Q 962.28 621.59 963.29 625.11 Q 963.89 627.13 963.69 630.15 L 963.39 638.21 L 962.53 648.29 L 962.03 655.34 L 961.52 665.11 L 960.77 673.17 Q 960.26 676.20 957.75 677.71 L 947.17 684.76 L 945.15 685.77 L 942.63 685.01 L 925.00 695.34" fill="none" stroke="#161616" stroke-width="0.98"/><path d="M 945.15 613.53 L 953.21 617.56" fill="none" stroke="#161616" stroke-width="0.82" stroke-dasharray="0.5 0.6" stroke-linecap="butt"/><path d="M 960.52 639.72 L 959.76 650.00 L 959.51 657.05 Q 959.26 658.11 957.75 658.82" fill="none" stroke="#161616" stroke-width="0.98"/><path d="M 912.24 662.09 L 924.99 657.36 L 960.25 639.72 L 962.77 638.21" fill="none" stroke="#161616" stroke-width="0.98"/><path d="M 911.23 662.59 L 911.23 682.24 Q 910.98 684.51 913.25 684.76" fill="none" stroke="#161616" stroke-width="0.98"/><path d="M 911.23 682.24 L 940.00 669.40 L 957.73 658.82" fill="none" stroke="#161616" stroke-width="0.98"/><path d="M 913.25 684.76 L 940.00 672.17 L 958.24 660.83" fill="none" stroke="#161616" stroke-width="0.64"/><path d="M 909.47 662.59 L 912.49 662.09 L 912.49 668.14 L 909.47 667.13 Z" fill="#888" stroke="#161616" stroke-width="0.64"/><path d="M 898.64 649.65 L 898.39 661.08 L 896.62 701.89" fill="none" stroke="#161616" stroke-width="0.98"/><path d="M 898.39 661.34 Q 902.67 663.85 909.22 663.35 L 912.24 662.09" fill="none" stroke="#161616" stroke-width="0.64"/><path d="M 910.23 702.90 L 910.73 692.82 Q 911.23 691.31 913.25 690.81 L 924.99 685.87 L 956.22 668.64 Q 958.24 667.88 958.74 669.65 L 957.98 676.70" fill="none" stroke="#161616" stroke-width="0.98"/><path d="M 957.23 669.90 L 957.23 676.70" fill="none" stroke="#161616" stroke-width="0.64"/><path d="M 913.50 692.82 L 913.25 701.89" fill="none" stroke="#777" stroke-width="1.47"/><path d="M 914.76 692.32 L 914.51 700.88" fill="none" stroke="#161616" stroke-width="0.64"/><path d="M 948.68 673.68 L 952.46 672.67 L 952.71 676.70 L 949.18 678.21 Z" fill="none" stroke="#161616" stroke-width="0.64"/><path d="M 845.08 650.00 L 845.33 668.14 L 857.42 678.46 L 858.43 675.04 L 861.45 677.71 L 869.76 684.26 L 870.52 686.52 L 874.29 687.78 L 881.10 692.82 Q 881.60 695.34 882.61 697.36 Q 884.12 699.62 886.89 701.39 L 890.42 701.39" fill="none" stroke="#161616" stroke-width="0.98"/><path d="M 886.90 701.39 L 890.08 701.39 L 897.13 705.92 Q 901.16 707.03 906.20 705.42 L 910.23 703.40 L 923.83 696.85 L 924.84 694.94 L 942.62 685.01 L 945.14 685.77 L 947.15 684.76 L 957.73 677.71" fill="none" stroke="#161616" stroke-width="0.98"/><path d="M 896.62 701.89 Q 900.15 704.41 905.19 704.41 L 909.47 702.90" fill="none" stroke="#161616" stroke-width="0.98"/><path d="M 874.29 634.79 L 881.35 650.00 L 886.39 658.56 L 887.39 700.38" fill="none" stroke="#161616" stroke-width="0.64"/><path d="M 878.32 636.80 L 885.38 650.00 L 889.66 657.56 L 889.91 691.81 L 890.42 700.38" fill="none" stroke="#161616" stroke-width="0.64"/><path d="M 890.06 691.81 L 896.11 696.35 M 890.06 697.86 L 896.11 701.89" fill="none" stroke="#161616" stroke-width="0.64"/><path d="M 845.83 631.74 L 853.64 636.78 L 853.64 648.87 L 845.83 643.83 Z" fill="#4c4c4c" stroke="#4c4c4c" stroke-width="0.16"/><path d="M 845.98 633.25 L 853.54 636.37" fill="none" stroke="#8a8a8a" stroke-width="0.37"/><path d="M 845.98 635.16 L 853.54 638.29" fill="none" stroke="#8a8a8a" stroke-width="0.37"/><path d="M 845.98 637.08 L 853.54 640.20" fill="none" stroke="#8a8a8a" stroke-width="0.37"/><path d="M 845.98 638.99 L 853.54 642.12" fill="none" stroke="#8a8a8a" stroke-width="0.37"/><path d="M 845.98 640.91 L 853.54 644.03" fill="none" stroke="#8a8a8a" stroke-width="0.37"/><path d="M 845.98 642.82 L 853.54 645.94" fill="none" stroke="#8a8a8a" stroke-width="0.37"/></g>
<path d="M401.9,1247.6 L362.2,1246.9 L395.5,1233Z" fill="#fff"/>
<circle cx="469.5" cy="1209.9" r="77.5" fill="#8082a3"/>
<path d="M401.9,1247.7 A77.5,77.5 0 1 0 395.5,1233 L362.6,1246.6 Z" fill="none" stroke="#4a4849" stroke-width="4" stroke-linejoin="round"/>
<circle cx="470.9" cy="1210.5" r="29.6" fill="url(#gg)" stroke="#111" stroke-width="1.4"/>
<path d="M467.6,1194.2 C456,1198 452.5,1210 459.5,1218.5 C465,1225 474,1225.5 480.9,1220.8 C472,1223 464.5,1219 461.5,1211.5 C459.5,1205.5 462,1198.5 467.6,1194.2Z" fill="none" stroke="#111" stroke-width="1.15" stroke-linejoin="round"/>
<rect x="157.3" y="1294.7" width="261.1" height="101.3" rx="12.8" ry="12.8" fill="#fff" stroke="#8e8c8d" stroke-width="3.8" filter="url(#sh)"/>
<path d="M170.9,1337 L207.8,1323.4 L246.8,1339.8 L209.9,1352.9Z" fill="#fbccb1"/>
<path d="M170.9,1337 L209.9,1352.9 L209.9,1384.8 L170.9,1368.6Z" fill="#f5845c"/>
<path d="M209.9,1352.9 L246.8,1339.8 L246.8,1371.5 L209.9,1384.8Z" fill="#f04a1c"/>
<path d="M170.9,1332.5 L170.9,1322 L207.8,1308.2 L246.8,1324.8 L246.8,1336" fill="none" stroke="#454545" stroke-width="1.6" stroke-dasharray="7.2 6.53"/>
<rect x="0" y="1684" width="1191" height="1" fill="#000"/>
<rect x="587" y="1684" width="1" height="1" fill="#1010ff"/>
<rect x="589" y="1684" width="1" height="1" fill="#106010"/>
<rect x="592" y="1684" width="1" height="1" fill="#d01010"/>
<rect x="593" y="1684" width="1" height="1" fill="#10d010"/>
<rect x="596" y="1684" width="1" height="1" fill="#803000"/>
<rect x="597" y="1684" width="1" height="1" fill="#101060"/>
<rect x="600" y="1684" width="1" height="1" fill="#e01010"/>
<rect x="601" y="1684" width="1" height="1" fill="#1040ff"/>
<rect x="604" y="1684" width="1" height="1" fill="#e01010"/>
</svg>
</body></html>
